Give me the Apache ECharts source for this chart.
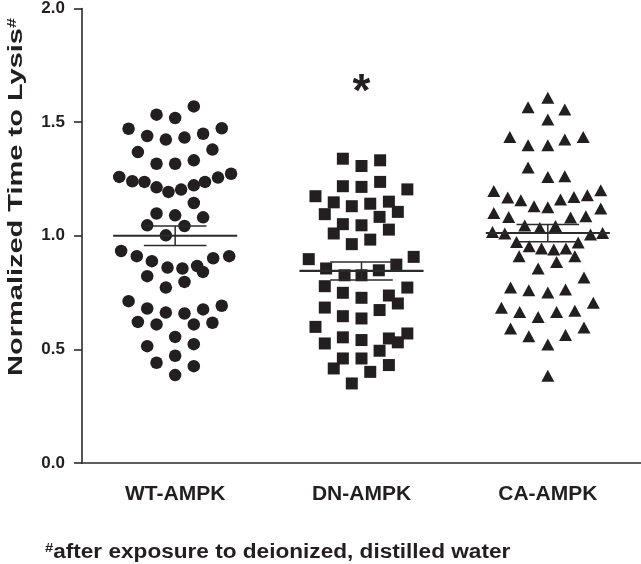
<!DOCTYPE html>
<html>
<head>
<meta charset="utf-8">
<script src="https://cdn.jsdelivr.net/npm/echarts@6/dist/echarts.min.js"></script>
<style>
  html, body { margin: 0; padding: 0; background: #fff; }
  #chart { width: 641px; height: 564px; }
</style>
</head>
<body>
<div id="chart"></div>
<script>
// ---------- data ----------
var categories = ['WT-AMPK', 'DN-AMPK', 'CA-AMPK'];
var yTicks = [0, 0.5, 1.0, 1.5, 2.0];

var wtValues = [1.569,1.533,1.518,1.471,1.439,1.423,1.432,1.449,1.473,1.368,1.379,1.317,1.317,1.332,1.259,1.240,1.237,1.213,1.193,1.203,1.222,1.237,1.256,1.273,1.144,1.098,1.090,1.081,1.046,1.043,1.002,0.933,0.910,0.888,0.860,0.856,0.867,0.841,0.901,0.910,0.822,0.797,0.772,0.712,0.680,0.662,0.658,0.676,0.692,0.621,0.610,0.610,0.617,0.555,0.514,0.523,0.472,0.441,0.426,0.387];
var wtJitter = [0.10,-0.10,0,-0.25,-0.15,-0.05,0.05,0.15,0.25,-0.20,0.20,-0.10,0,0.10,-0.30,-0.23,-0.165,-0.10,-0.036,0.032,0.10,0.16,0.23,0.30,0.10,-0.10,0,0.15,-0.15,0.05,-0.05,-0.29,-0.206,-0.125,-0.041,0.039,0.118,0.149,0.204,0.29,-0.15,0.05,-0.05,-0.25,-0.15,-0.05,0.05,0.15,0.25,-0.20,-0.10,0.10,0.20,0,-0.15,0.10,0,-0.10,0.10,0];

var dnValues = [1.339,1.307,1.332,1.218,1.215,1.237,1.204,1.174,1.147,1.130,1.141,1.150,1.105,1.095,1.083,1.051,1.046,1.010,1.027,0.963,0.983,0.897,0.856,0.826,0.826,0.848,0.873,0.907,0.778,0.749,0.727,0.737,0.702,0.772,0.684,0.646,0.636,0.673,0.599,0.526,0.553,0.541,0.548,0.531,0.570,0.494,0.460,0.460,0.416,0.401,0.431,0.350];
var dnJitter = [-0.10,0,0.10,-0.10,0,0.10,0.246,-0.247,-0.149,-0.052,0.047,0.147,0.195,-0.197,0.097,-0.10,0,-0.149,0.147,-0.052,0.047,-0.283,-0.19,-0.091,0,0.093,0.187,0.28,-0.197,-0.10,0,0.147,0.195,0.246,-0.197,-0.10,0,0.097,-0.247,-0.197,-0.10,0,0.147,0.195,0.246,0.097,-0.10,0,-0.149,0.047,0.147,-0.052];

var caValues = [1.607,1.566,1.556,1.512,1.434,1.398,1.398,1.423,1.434,1.300,1.259,1.262,1.197,1.168,1.156,1.130,1.125,1.159,1.171,1.178,1.200,1.100,1.083,1.045,1.034,1.043,1.080,1.086,1.120,1.017,1.010,1.005,1.012,0.973,0.954,0.944,0.939,0.944,0.970,0.910,0.910,0.885,0.856,0.816,0.772,0.760,0.750,0.764,0.683,0.665,0.643,0.665,0.670,0.705,0.592,0.558,0.522,0.563,0.596,0.384];
var caJitter = [0,-0.106,0.091,0,-0.204,-0.106,0,0.091,0.19,-0.106,0,0.091,-0.29,-0.215,-0.145,-0.074,0,0.068,0.14,0.212,0.284,-0.29,-0.21,-0.124,-0.043,0.041,0.122,0.204,0.284,-0.297,-0.231,0.229,0.294,-0.168,-0.10,-0.034,0.032,0.097,0.163,-0.154,0.145,0.047,-0.052,0.194,-0.20,-0.102,0,0.095,-0.249,-0.151,-0.052,0.047,0.145,0.244,-0.20,-0.102,0,0.095,0.194,0];

var groupMeans = [1.000, 0.845, 1.012];
var groupSem   = [0.043, 0.040, 0.038];
var significance = ['', '*', ''];
var asteriskY = 1.66;

// ---------- build ----------
var INK = '#231f20';
var FONT = "'Liberation Sans', Arial, Helvetica, sans-serif";

function pairs(pos, jit, vals) {
  return vals.map(function (v, i) { return [pos + jit[i], v]; });
}
var meanData = groupMeans.map(function (m, i) { return [i + 1, m, m - groupSem[i], m + groupSem[i]]; });

var MEAN_HALF = 0.333, CAP_HALF = 0.168;

var chart = echarts.init(document.getElementById('chart'), null, { renderer: 'canvas' });
chart.setOption({
  animation: false,
  backgroundColor: '#fff',
  grid: { left: 82, right: 0, top: 8, bottom: 101, containLabel: false },
  xAxis: [{
    type: 'category',
    data: categories,
    boundaryGap: true,
    axisLine: { lineStyle: { color: '#2b2b2b', width: 1.6 } },
    axisTick: { alignWithLabel: true, length: 9, lineStyle: { color: '#2b2b2b', width: 1.6 } },
    axisLabel: { color: INK, fontFamily: FONT, fontWeight: 'bold', fontSize: 21, margin: 21 },
    splitLine: { show: false }
  }, {
    type: 'value', min: 0.5, max: 3.5, show: false
  }],
  yAxis: {
    type: 'value', min: 0, max: 2, interval: 0.5,
    axisLine: { show: true, lineStyle: { color: '#2b2b2b', width: 1.6 } },
    axisTick: { show: true, length: 8, lineStyle: { color: '#2b2b2b', width: 1.6 } },
    axisLabel: { color: INK, fontFamily: FONT, fontWeight: 'bold', fontSize: 17, margin: 17,
      formatter: function (v) { return v.toFixed(1); } },
    splitLine: { show: false }
  },
  graphic: [{
    type: 'text', x: 16, y: 197, rotation: Math.PI / 2, scaleX: 1.38,
    style: {
      text: '{a|Normalized Time to Lysis}{s|#}',
      align: 'center', verticalAlign: 'middle',
      rich: {
        a: { fontFamily: FONT, fontWeight: 'bold', fontSize: 21, fill: INK },
        s: { fontFamily: FONT, fontWeight: 'bold', fontSize: 13, fill: INK, verticalAlign: 'top' }
      }
    }
  }, {
    type: 'text', x: 45, y: 552, scaleX: 1.13,
    style: {
      text: '{s|#}{a|after exposure to deionized, distilled water}',
      align: 'left', verticalAlign: 'middle',
      rich: {
        a: { fontFamily: FONT, fontWeight: 'bold', fontSize: 20, fill: INK },
        s: { fontFamily: FONT, fontWeight: 'bold', fontSize: 13, fill: INK, verticalAlign: 'top' }
      }
    }
  }],
  series: [{
    type: 'scatter', xAxisIndex: 1, symbol: 'circle', symbolSize: 12.5,
    itemStyle: { color: INK, opacity: 1 }, data: pairs(1, wtJitter, wtValues)
  }, {
    type: 'scatter', xAxisIndex: 1, symbol: 'rect', symbolSize: 12,
    itemStyle: { color: INK, opacity: 1 }, data: pairs(2, dnJitter, dnValues)
  }, {
    type: 'scatter', xAxisIndex: 1, symbol: 'triangle', symbolSize: [13, 12],
    itemStyle: { color: INK, opacity: 1 }, data: pairs(3, caJitter, caValues)
  }, {
    type: 'custom', xAxisIndex: 1, z: 5,
    data: meanData,
    renderItem: function (params, api) {
      var x = api.value(0), m = api.value(1), lo = api.value(2), hi = api.value(3);
      var pL = api.coord([x - MEAN_HALF, m]), pR = api.coord([x + MEAN_HALF, m]);
      var cT = api.coord([x, hi]), cB = api.coord([x, lo]);
      var capL = api.coord([x - CAP_HALF, hi])[0], capR = api.coord([x + CAP_HALF, hi])[0];
      var st = { stroke: '#2b2b2b', lineWidth: 1.5 };
      return { type: 'group', children: [
        { type: 'line', shape: { x1: pL[0], y1: pL[1], x2: pR[0], y2: pR[1] }, style: { stroke: '#2b2b2b', lineWidth: 2.2 } },
        { type: 'line', shape: { x1: cT[0], y1: cT[1], x2: cB[0], y2: cB[1] }, style: st },
        { type: 'line', shape: { x1: capL, y1: cT[1], x2: capR, y2: cT[1] }, style: st },
        { type: 'line', shape: { x1: capL, y1: cB[1], x2: capR, y2: cB[1] }, style: st }
      ]};
    }
  }, {
    type: 'custom', xAxisIndex: 1, z: 5,
    data: significance.map(function (s, i) { return [i + 1, asteriskY]; }),
    renderItem: function (params, api) {
      var p = api.coord([api.value(0), api.value(1)]);
      var txt = significance[params.dataIndex];
      return { type: 'text', x: p[0], y: p[1] + 8,
        style: { text: txt, fontFamily: FONT, fontWeight: 'bold', fontSize: 46, fill: INK, align: 'center', verticalAlign: 'middle' } };
    }
  }]
});
</script>
</body>
</html>
